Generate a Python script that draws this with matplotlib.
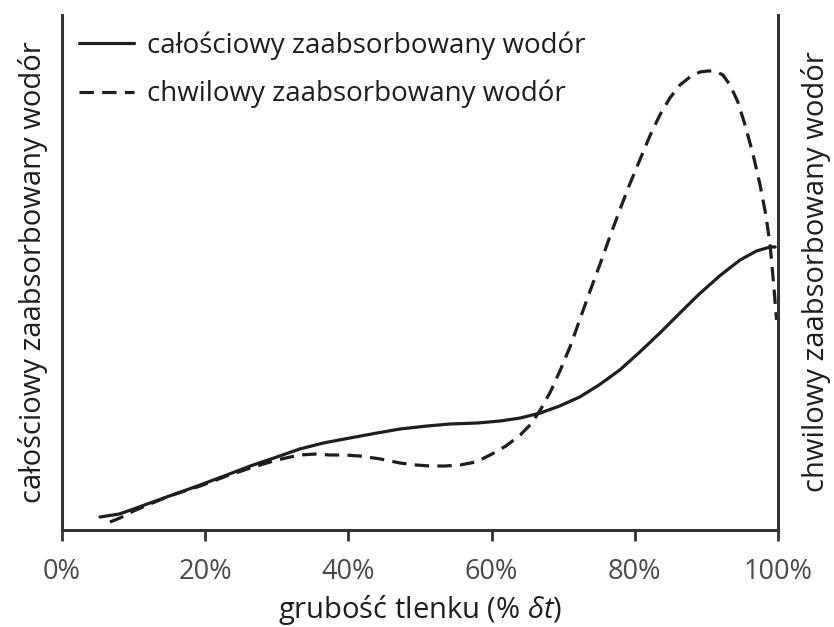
import numpy as np
import matplotlib.pyplot as plt

plt.rcParams['font.family'] = ['Open Sans', 'DejaVu Sans']
plt.rcParams['mathtext.fontset'] = 'custom'
plt.rcParams['mathtext.it'] = 'Open Sans:italic'
plt.rcParams['mathtext.rm'] = 'Open Sans'

# grubość tlenku (%) and curve heights (arbitrary units)
x_total = [5.3, 8.0, 10.0, 12.3, 15.0, 19.3, 23.0, 26.3, 30.0, 33.2, 36.5, 40.2, 44.0,
           47.2, 51.0, 54.2, 58.0, 61.2, 64.0, 66.8, 69.5, 72.3, 75.0, 77.9, 80.7,
           83.5, 86.3, 89.0, 92.0, 94.7, 97.0, 98.9, 99.6]
y_total = [13, 16, 21, 27, 34, 45, 55, 64, 73, 81, 87, 92, 97,
           101, 104, 106, 107, 109, 112, 117, 124, 133, 145, 160, 178,
           197, 217, 236, 255, 270, 279, 283, 283]

x_inst = [6.7, 8.1, 10.0, 12.3, 15.0, 19.3, 23.0, 26.3, 30.0, 33.2, 35.5, 37.4, 39.5,
          41.6, 44.5, 47.2, 49.5, 51.4, 53.5, 55.6, 57.8, 59.8, 62.0, 64.0, 65.5,
          66.8, 68.2, 69.6, 71.0, 72.3, 73.7, 75.1, 76.5, 77.9, 79.3, 80.7, 82.1,
          83.5, 84.9, 86.3, 87.7, 89.1, 90.2, 91.2, 92.3, 93.3, 94.4, 95.4, 96.5,
          97.5, 98.3, 98.9, 99.4, 99.8]
y_inst = [8, 12, 19, 26, 34, 44, 54, 62, 70, 75, 76, 75, 75,
          74, 71, 67, 65, 64, 64, 65, 68, 75, 84, 95, 106,
          120, 138, 160, 184, 210, 238, 265, 293, 320, 346, 370, 394,
          415, 432, 445, 453, 458, 459, 459, 455, 445, 428, 405, 376,
          345, 315, 285, 245, 210]

ticks = [0, 20, 40, 60, 80, 100]
tick_labels = ['0%', '20%', '40%', '60%', '80%', '100%']

fig = plt.figure(figsize=(8.34, 6.27), dpi=100)
ax = fig.add_axes([62 / 834, 1 - 530 / 627, 716 / 834, 515 / 627])

ink = '#1e1e1e'
ax.plot(x_total, y_total, color=ink, lw=2.3, solid_capstyle='round',
        label='całościowy zaabsorbowany wodór')
ax.plot(x_inst, y_inst, color=ink, lw=2.3, dashes=(4.5, 2.6),
        label='chwilowy zaabsorbowany wodór')

ax.set_xlim(0, 100)
ax.set_ylim(0, 515)
ax.set_yticks([])
ax.set_xticks(ticks)
ax.set_xticklabels(tick_labels)
ax.tick_params(axis='x', direction='out', length=8, width=2, color='#333333',
               labelsize=19.5, labelcolor='#4a4a4a', pad=12)

ax.spines['top'].set_visible(False)
for side in ['left', 'right', 'bottom']:
    ax.spines[side].set_linewidth(2.2)
    ax.spines[side].set_color('#333333')

ax.set_xlabel('grubość tlenku (% $\\delta t$)', fontsize=21, color=ink, labelpad=5)
ax.set_ylabel('całościowy zaabsorbowany wodór', fontsize=21, color=ink, labelpad=10)
fig.text(0.978, 1 - 272 / 627, 'chwilowy zaabsorbowany wodór', rotation=90,
         fontsize=21, color=ink, ha='center', va='center')

ax.legend(loc='upper left', bbox_to_anchor=(0.008, 0.99), frameon=False,
          fontsize=20, handlelength=2.0, handletextpad=0.45, labelspacing=0.72,
          borderaxespad=0.0, labelcolor=ink)

fig.savefig('out.png', dpi=100)
